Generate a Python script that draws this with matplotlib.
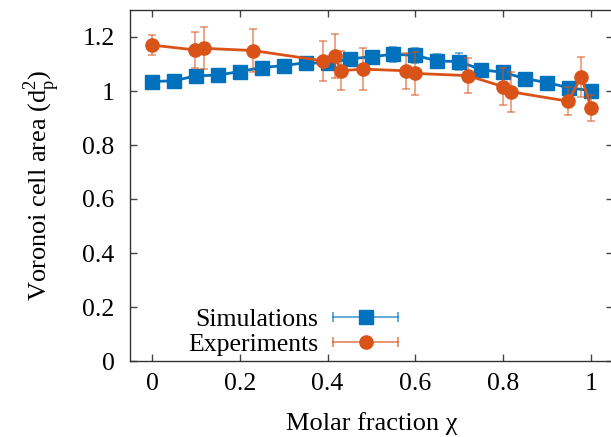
import numpy as np
import matplotlib
matplotlib.use('Agg')
import matplotlib.pyplot as plt
from matplotlib.lines import Line2D
from matplotlib.legend_handler import HandlerLine2D, HandlerTuple

plt.rcParams['font.family'] = ['Liberation Serif', 'DejaVu Serif']
plt.rcParams['mathtext.fontset'] = 'custom'
plt.rcParams['mathtext.rm'] = 'Liberation Serif'

BLUE = '#0072BD'
ORANGE = '#D95319'

# simulations
sim_x = [0.0, 0.05, 0.1, 0.15, 0.2, 0.25, 0.3, 0.35, 0.4, 0.45, 0.5,
         0.55, 0.6, 0.65, 0.7, 0.75, 0.8, 0.85, 0.9, 0.95, 1.0]
sim_y = [1.035, 1.038, 1.056, 1.059, 1.072, 1.087, 1.094, 1.105, 1.102, 1.119, 1.127,
         1.136, 1.132, 1.111, 1.109, 1.079, 1.069, 1.046, 1.031, 1.012, 1.001]
sim_err = [0.02, 0.02, 0.02, 0.02, 0.02, 0.02, 0.02, 0.02, 0.02, 0.02, 0.02,
           0.028, 0.027, 0.027, 0.033, 0.02, 0.025, 0.02, 0.02, 0.02, 0.02]

# experiments
exp_x = [0.0, 0.099, 0.119, 0.229, 0.389, 0.418, 0.43, 0.48, 0.578, 0.6,
         0.719, 0.80, 0.818, 0.948, 0.978, 1.0]
exp_y = [1.170, 1.152, 1.158, 1.150, 1.112, 1.130, 1.075, 1.081, 1.075, 1.065,
         1.057, 1.016, 0.997, 0.962, 1.053, 0.938]
exp_err = [0.038, 0.066, 0.078, 0.079, 0.075, 0.081, 0.072, 0.079, 0.067, 0.08,
           0.065, 0.069, 0.075, 0.051, 0.074, 0.048]

fig = plt.figure(figsize=(6.11, 4.37), dpi=100)
ax = fig.add_axes([130 / 611, (437 - 361) / 437, 483 / 611, 351 / 437])

ax.errorbar(sim_x, sim_y, yerr=sim_err, fmt='none', ecolor=BLUE, alpha=0.6,
            elinewidth=1.2, capsize=3, capthick=1.2, zorder=2)
ax.plot(sim_x, sim_y, '-', color=BLUE, lw=2, marker='s', ms=10, zorder=3)

ax.errorbar(exp_x, exp_y, yerr=exp_err, fmt='none', ecolor=ORANGE, alpha=0.6,
            elinewidth=1.2, capsize=3, capthick=1.2, zorder=4)
ax.plot(exp_x, exp_y, '-', color=ORANGE, lw=2, marker='o', ms=9.5, zorder=5)

ax.set_xlim(-0.05, 1.05)
ax.set_ylim(0, 1.3)
ax.set_xticks(np.arange(0, 1.01, 0.2))
ax.set_xticklabels(['0', '0.2', '0.4', '0.6', '0.8', '1'])
ax.set_yticks(np.arange(0, 1.21, 0.2))
ax.set_yticklabels(['0', '0.2', '0.4', '0.6', '0.8', '1', '1.2'])
ax.tick_params(direction='in', length=5, width=1, top=True, right=True,
               labelsize=18.5, color='#444444')
ax.tick_params(axis='x', pad=9)
ax.tick_params(axis='y', pad=11)
for s in ax.spines.values():
    s.set_color('#333333')
    s.set_linewidth(1)

ax.set_xlabel('Molar fraction χ', fontsize=19, labelpad=12)
ax.set_ylabel(r'Voronoi cell area (d$_{\mathregular{p}}^{\mathregular{2}}$)',
              fontsize=19, labelpad=15)

# legend: horizontal bar with caps and a marker in the middle
sim_bar = Line2D([], [], color=BLUE, alpha=0.7, lw=1.2, marker='|', ms=7, mew=1.2)
sim_mk = Line2D([], [], color=BLUE, ls='none', marker='s', ms=10)
exp_bar = Line2D([], [], color=ORANGE, alpha=0.7, lw=1.2, marker='|', ms=7, mew=1.2)
exp_mk = Line2D([], [], color=ORANGE, ls='none', marker='o', ms=9.5)
hmap = {sim_bar: HandlerLine2D(numpoints=2), exp_bar: HandlerLine2D(numpoints=2),
        sim_mk: HandlerLine2D(numpoints=1), exp_mk: HandlerLine2D(numpoints=1),
        tuple: HandlerTuple(ndivide=1, pad=0)}
ax.legend([(sim_bar, sim_mk), (exp_bar, exp_mk)], ['Simulations', 'Experiments'],
          handler_map=hmap, markerfirst=False, frameon=False, fontsize=18.5,
          handlelength=3.1, handletextpad=0.3, labelspacing=0.1,
          loc='center', bbox_to_anchor=(0.345, 0.082))

fig.savefig('out.png', dpi=100)
